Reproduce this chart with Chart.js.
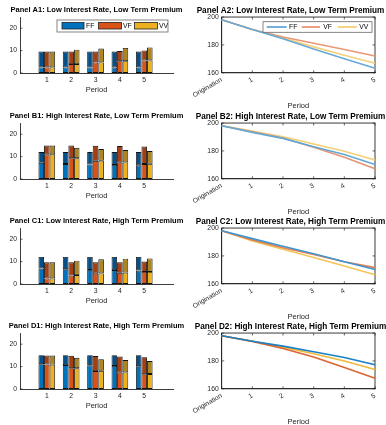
<!DOCTYPE html>
<html><head><meta charset="utf-8">
<script src="https://cdn.jsdelivr.net/npm/chart.js@4/dist/chart.umd.min.js"></script>
<style>
html,body{margin:0;padding:0;background:#fff;width:386px;height:425px;overflow:hidden;position:relative;}
canvas{position:absolute;}
</style></head><body>
<script>
// ---------- data ----------
const periods = [1, 2, 3, 4, 5];
const lineLabels = ['Origination', '1', '2', '3', '4', '5'];
const barTicks = [0, 10, 20];
const lineTicks = [160, 180, 200];
const seriesNames = ['FF', 'VF', 'VV'];

// Panel A1 (lower segment, total bar height)
const A1_FF_low = [2.5, 2.5, 2.5, 2.5, 2.5];
const A1_FF_total = [9.6, 9.6, 9.6, 9.6, 9.6];
const A1_VF_low = [2.5, 4.0, 4.7, 5.3, 5.6];
const A1_VF_total = [9.6, 9.6, 9.6, 9.8, 10.1];
const A1_VV_low = [2.5, 4.0, 4.7, 5.3, 5.6];
const A1_VV_total = [9.6, 10.4, 10.9, 11.2, 11.4];

// Panel B1
const B1_FF_low = [7.2, 6.7, 6.5, 6.3, 6.1];
const B1_FF_total = [12.0, 12.0, 12.0, 12.0, 12.0];
const B1_VF_low = [11.0, 9.3, 8.1, 7.3, 6.7];
const B1_VF_total = [14.9, 14.9, 14.8, 14.7, 14.5];
const B1_VV_low = [11.0, 9.3, 8.2, 7.4, 6.8];
const B1_VV_total = [14.9, 13.9, 13.4, 12.9, 12.5];

// Panel C1
const C1_FF_low = [6.9, 6.6, 6.3, 6.2, 6.0];
const C1_FF_total = [12.1, 12.1, 12.1, 12.1, 12.1];
const C1_VF_low = [2.5, 3.8, 4.6, 5.0, 5.4];
const C1_VF_total = [9.7, 9.7, 9.7, 9.7, 10.0];
const C1_VV_low = [2.5, 4.0, 4.7, 5.1, 5.4];
const C1_VV_total = [9.7, 10.4, 11.0, 11.3, 11.4];

// Panel D1
const D1_FF_low = [11.1, 10.7, 10.6, 10.3, 10.2];
const D1_FF_total = [15.1, 15.1, 15.1, 15.1, 15.1];
const D1_VF_low = [10.9, 9.3, 8.0, 7.3, 6.6];
const D1_VF_total = [14.9, 14.8, 14.7, 14.5, 14.2];
const D1_VV_low = [10.9, 9.3, 8.1, 7.4, 6.7];
const D1_VV_total = [14.9, 13.9, 13.3, 12.9, 12.5];

// Line panels
const A2_FF = [198, 191, 184.5, 177, 170, 163.2];
const A2_VF = [198, 191, 185.7, 181.2, 176.7, 172];
const A2_VV = [198, 191, 185, 178.6, 172.6, 166.8];

const B2_FF = [198, 193.3, 189, 183, 177.4, 170.2];
const B2_VF = [198, 193.8, 189.3, 182.6, 175.5, 167.2];
const B2_VV = [198, 194.3, 190.2, 185, 179.8, 173.5];

const C2_FF = [198, 192.4, 187, 181.5, 175.8, 170.2];
const C2_VF = [198, 191.5, 185.8, 181, 175.8, 171.6];
const C2_VV = [198, 190.8, 184.8, 178.9, 172.7, 166.5];

const D2_FF = [198, 194.1, 190.6, 186.6, 182.4, 177.2];
const D2_VF = [198, 194, 188.9, 182.8, 175.3, 167.5];
const D2_VV = [198, 194.1, 189.9, 185.2, 180, 173.9];

// ---------- styling ----------
const FONT = "'Liberation Sans', Arial, Helvetica, sans-serif";
Chart.defaults.font.family = FONT;
Chart.defaults.color = '#262626';
const AX = '#262626';
const lowColors = ['#0072BD', '#D95319', '#EDB120'];
const highColors = ['#06508a', '#a23f14', '#ad8520'];
const lineRGB = [[0, 114, 189], [217, 83, 25], [237, 177, 32]];
// opaque tint of a base colour toward white
const tint = (c, a) => `rgb(${c.map(v => Math.round(v * a + 255 * (1 - a))).join(',')})`;

const rowTops = [0, 106, 211, 316];

const innerTicks = {
  id: 'innerTicks',
  beforeDatasetsDraw(chart, args, o) {
    const {ctx, chartArea: a, scales} = chart;
    const L = 2.5;
    ctx.save();
    ctx.strokeStyle = AX; ctx.lineWidth = 0.7;
    ctx.beginPath();
    scales.x.ticks.forEach((t, i) => {
      const px = scales.x.getPixelForTick(i);
      ctx.moveTo(px, a.bottom); ctx.lineTo(px, a.bottom - L);
      if (o.box) { ctx.moveTo(px, a.top); ctx.lineTo(px, a.top + L); }
    });
    scales.y.ticks.forEach((t, i) => {
      const py = scales.y.getPixelForTick(i);
      ctx.moveTo(a.left, py); ctx.lineTo(a.left + L, py);
      if (o.box) { ctx.moveTo(a.right, py); ctx.lineTo(a.right - L, py); }
    });
    ctx.stroke();
    if (o.box) { ctx.lineWidth = 0.9; ctx.strokeRect(a.left, a.top, a.width, a.height); }
    ctx.restore();
  }
};

const boxLegend = {
  id: 'boxLegend',
  afterDraw(chart, args, o) {
    if (!o || !o.items) return;
    const ctx = chart.ctx;
    ctx.save();
    ctx.fillStyle = '#fff';
    ctx.fillRect(o.x, o.y, o.w, o.h);
    ctx.strokeStyle = '#666'; ctx.lineWidth = 0.8;
    ctx.strokeRect(o.x, o.y, o.w, o.h);
    ctx.font = `6.8px ${FONT}`;
    ctx.textBaseline = 'middle'; ctx.textAlign = 'left';
    o.items.forEach(it => {
      if (it.kind === 'rect') {
        ctx.fillStyle = it.color;
        ctx.fillRect(it.x1, it.y1, it.x2 - it.x1, it.y2 - it.y1);
        ctx.strokeStyle = '#222'; ctx.lineWidth = 0.8;
        ctx.strokeRect(it.x1, it.y1, it.x2 - it.x1, it.y2 - it.y1);
      } else {
        ctx.strokeStyle = it.color; ctx.lineWidth = 1.8;
        ctx.beginPath(); ctx.moveTo(it.x1, it.ym); ctx.lineTo(it.x2, it.ym); ctx.stroke();
      }
      ctx.fillStyle = '#000';
      ctx.fillText(it.label, it.tx, it.ty);
    });
    ctx.restore();
  }
};

function zeroPad(s) { s.paddingLeft = 0; s.paddingRight = 0; s.paddingTop = 0; s.paddingBottom = 0; }

// empty right-hand spacer axis, so the title can be centred over the plot
const spacer = w => ({position: 'right', display: true, min: 0, max: 1,
  grid: {display: false, drawTicks: false}, border: {display: false},
  ticks: {display: false}, afterFit: s => { s.width = w; zeroPad(s); }});

function makeCanvas(left, top, w, h) {
  const c = document.createElement('canvas');
  c.style.left = left + 'px'; c.style.top = top + 'px';
  c.style.width = w + 'px'; c.style.height = h + 'px';
  c.width = w; c.height = h;
  document.body.appendChild(c);
  return c;
}

function barPanel(row, title, lows, totals, legend) {
  const c = makeCanvas(0, rowTops[row], 193, 105);
  const datasets = [];
  seriesNames.forEach((name, s) => {
    datasets.push({
      label: name, stack: name,
      data: periods.map((p, i) => ({x: p, y: lows[s][i]})),
      backgroundColor: lowColors[s]
    });
    datasets.push({
      label: name + ' top', stack: name,
      data: periods.map((p, i) => ({x: p, y: +(totals[s][i] - lows[s][i]).toFixed(2)})),
      backgroundColor: highColors[s]
    });
  });
  new Chart(c, {
    type: 'bar',
    data: {datasets},
    options: {
      animation: false, responsive: false, devicePixelRatio: 1,
      datasets: {bar: {borderColor: '#111', borderWidth: 0.9, borderSkipped: false,
        categoryPercentage: 0.685, barPercentage: 1}},
      layout: {padding: {left: 0, right: 0, top: 0, bottom: 0}},
      plugins: {
        legend: {display: false}, tooltip: {enabled: false},
        title: {display: true, text: title, color: '#000',
          font: {size: 7.5, weight: 'bold'}, padding: {top: 5.5, bottom: 2.5}},
        innerTicks: {box: false},
        boxLegend: legend || {}
      },
      scales: {
        x: {type: 'linear', min: -0.1, max: 6.18, stacked: true, offset: false,
          afterBuildTicks: s => { s.ticks = periods.map(v => ({value: v})); },
          afterFit: s => { s.height = 32; zeroPad(s); },
          grid: {display: false, drawTicks: false, offset: false},
          border: {display: true, color: AX, width: 0.9},
          ticks: {font: {size: 6.8}, color: AX, padding: 3, maxRotation: 0},
          title: {display: true, text: 'Period', color: AX, font: {size: 7.5}, padding: {top: 0, bottom: 11}}
        },
        y: {min: 0, max: 25, stacked: true,
          afterBuildTicks: s => { s.ticks = barTicks.map(v => ({value: v})); },
          afterFit: s => { s.width = 20; zeroPad(s); },
          grid: {display: false, drawTicks: false},
          border: {display: true, color: AX, width: 0.9},
          ticks: {font: {size: 6.8}, color: AX, padding: 3}
        },
        pad: spacer(20)
      }
    },
    plugins: [innerTicks, boxLegend]
  });
}

function linePanel(row, title, series, alpha, legend) {
  const c = makeCanvas(193, rowTops[row], 195, 110);
  const datasets = seriesNames.map((name, s) => ({
    label: name, data: series[s],
    borderColor: tint(lineRGB[s], alpha), borderWidth: 1.6,
    pointRadius: 0, tension: 0, fill: false
  }));
  new Chart(c, {
    type: 'line',
    data: {labels: lineLabels, datasets},
    options: {
      animation: false, responsive: false, devicePixelRatio: 1,
      layout: {padding: {left: 0, right: 0, top: 0, bottom: 0}},
      plugins: {
        legend: {display: false}, tooltip: {enabled: false},
        title: {display: true, text: title, color: '#000',
          font: {size: 8.2, weight: 'bold'}, padding: {top: 5.8, bottom: 1.4}},
        innerTicks: {box: true},
        boxLegend: legend || {}
      },
      scales: {
        x: {type: 'category', offset: false,
          afterFit: s => { s.height = 110 - 72.8; zeroPad(s); },
          grid: {display: false, drawTicks: false},
          border: {display: true, color: AX, width: 0.9},
          ticks: {font: {size: 6.8}, color: AX, padding: 3, autoSkip: false, minRotation: 30, maxRotation: 30},
          title: {display: true, text: 'Period', color: AX, font: {size: 7.5}, padding: {top: 0, bottom: 0}}
        },
        y: {min: 160, max: 200,
          afterBuildTicks: s => { s.ticks = lineTicks.map(v => ({value: v})); },
          afterFit: s => { s.width = 28.7; zeroPad(s); },
          grid: {display: false, drawTicks: false},
          border: {display: true, color: AX, width: 0.9},
          ticks: {font: {size: 6.8}, color: AX, padding: 3}
        },
        pad: spacer(13)
      }
    },
    plugins: [innerTicks, boxLegend]
  });
}

const barLegend = {
  x: 57, y: 20, w: 111, h: 12,
  items: [
    {kind: 'rect', color: lowColors[0], x1: 62, x2: 84, y1: 22.5, y2: 29, label: 'FF', tx: 86, ty: 26},
    {kind: 'rect', color: lowColors[1], x1: 98.5, x2: 121.5, y1: 22.5, y2: 29, label: 'VF', tx: 123, ty: 26},
    {kind: 'rect', color: lowColors[2], x1: 134.5, x2: 157.5, y1: 22.5, y2: 29, label: 'VV', tx: 159, ty: 26}
  ]
};
const lineLegend = {
  x: 70, y: 21.7, w: 109, h: 10.6,
  items: [
    {kind: 'line', color: tint(lineRGB[0], 0.6), x1: 73.7, x2: 93.7, ym: 27, label: 'FF', tx: 96, ty: 27},
    {kind: 'line', color: tint(lineRGB[1], 0.6), x1: 108.7, x2: 127, ym: 27, label: 'VF', tx: 130.3, ty: 27},
    {kind: 'line', color: tint(lineRGB[2], 0.6), x1: 145, x2: 163.7, ym: 27, label: 'VV', tx: 166.3, ty: 27}
  ]
};

barPanel(0, 'Panel A1: Low Interest Rate, Low Term Premium',
  [A1_FF_low, A1_VF_low, A1_VV_low], [A1_FF_total, A1_VF_total, A1_VV_total], barLegend);
barPanel(1, 'Panel B1: High Interest Rate, Low Term Premium',
  [B1_FF_low, B1_VF_low, B1_VV_low], [B1_FF_total, B1_VF_total, B1_VV_total]);
barPanel(2, 'Panel C1: Low Interest Rate, High Term Premium',
  [C1_FF_low, C1_VF_low, C1_VV_low], [C1_FF_total, C1_VF_total, C1_VV_total]);
barPanel(3, 'Panel D1: High Interest Rate, High Term Premium',
  [D1_FF_low, D1_VF_low, D1_VV_low], [D1_FF_total, D1_VF_total, D1_VV_total]);

linePanel(0, 'Panel A2: Low Interest Rate, Low Term Premium', [A2_FF, A2_VF, A2_VV], 0.6, lineLegend);
linePanel(1, 'Panel B2: High Interest Rate, Low Term Premium', [B2_FF, B2_VF, B2_VV], 0.62);
linePanel(2, 'Panel C2: Low Interest Rate, High Term Premium', [C2_FF, C2_VF, C2_VV], 0.75);
linePanel(3, 'Panel D2: High Interest Rate, High Term Premium', [D2_FF, D2_VF, D2_VV], 0.9);
</script>
</body></html>
